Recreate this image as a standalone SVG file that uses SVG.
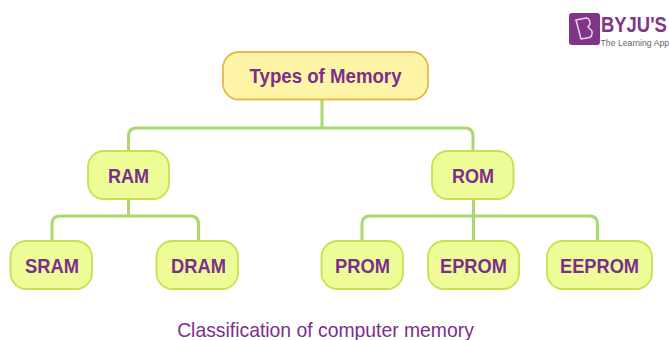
<svg xmlns="http://www.w3.org/2000/svg" width="669" height="340" viewBox="0 0 669 340">
<style>
.c{fill:none;stroke:#a9d86e;stroke-width:3}
.n{fill:#eefc98;stroke:#c9e04e;stroke-width:1.800}
.t{fill:#fff5a6;stroke:#e5b84c;stroke-width:1.800}
.l{font-family:"Liberation Sans",Arial,sans-serif;font-weight:700;font-size:20px;fill:#7b2f8b;text-anchor:middle}
</style>
<rect width="669" height="340" fill="#fff"/>
<g id="connectors">
<path class="c" d="M322 99V128M128.500 151V136Q128.500 128 136.500 128H465Q473 128 473 136V151"/>
<path class="c" d="M128.500 199V216M52 241V224Q52 216 60 216H190.500Q198.500 216 198.500 224V241"/>
<path class="c" d="M473.500 199V241M362 241V224Q362 216 370 216H589.500Q597.500 216 597.500 224V241"/>
</g>
<g id="types"><rect class="t" x="223" y="52" width="205" height="47.500" rx="16"/><text class="l" x="325.500" y="83" textLength="152" lengthAdjust="spacingAndGlyphs">Types of Memory</text></g>
<g id="ram"><rect class="n" x="88" y="151" width="81" height="48" rx="16"/><text class="l" x="128.500" y="183" textLength="41" lengthAdjust="spacingAndGlyphs">RAM</text></g>
<g id="rom"><rect class="n" x="432" y="151" width="81.500" height="48" rx="16"/><text class="l" x="473" y="183" textLength="42" lengthAdjust="spacingAndGlyphs">ROM</text></g>
<g id="sram"><rect class="n" x="10.500" y="241" width="81.500" height="48" rx="16"/><text class="l" x="52" y="273" textLength="54" lengthAdjust="spacingAndGlyphs">SRAM</text></g>
<g id="dram"><rect class="n" x="156.500" y="241" width="81.500" height="48" rx="16"/><text class="l" x="198.500" y="273" textLength="55" lengthAdjust="spacingAndGlyphs">DRAM</text></g>
<g id="prom"><rect class="n" x="321.500" y="241" width="81.500" height="48" rx="16"/><text class="l" x="362.500" y="273" textLength="55" lengthAdjust="spacingAndGlyphs">PROM</text></g>
<g id="eprom"><rect class="n" x="428" y="241" width="91" height="48" rx="16"/><text class="l" x="473.500" y="273" textLength="67" lengthAdjust="spacingAndGlyphs">EPROM</text></g>
<g id="eeprom"><rect class="n" x="547" y="241" width="105" height="48" rx="16"/><text class="l" x="599.500" y="273" textLength="79" lengthAdjust="spacingAndGlyphs">EEPROM</text></g>
<text x="325.500" y="337" font-family="'Liberation Sans',Arial,sans-serif" font-size="19.350" fill="#7b2f8b" text-anchor="middle">Classification of computer memory</text>
<g id="logo">
<rect x="569" y="13" width="31" height="32" rx="3" fill="#813588"/>
<path d="M576 20L586 18Q590 18 590 24L588 27L592 31Q593 38 587 38L581 39Z" fill="none" stroke="#e6d3e8" stroke-width="1.500"/>
<text transform="translate(601 32) scale(0.82 1)" font-family="'Liberation Sans',Arial,sans-serif" font-weight="700" font-size="22.500" fill="#813588">BYJU'S</text>
<text x="600.500" y="45.500" font-family="'Liberation Sans',Arial,sans-serif" font-size="8.700" fill="#666">The Learning App</text>
</g>
</svg>
